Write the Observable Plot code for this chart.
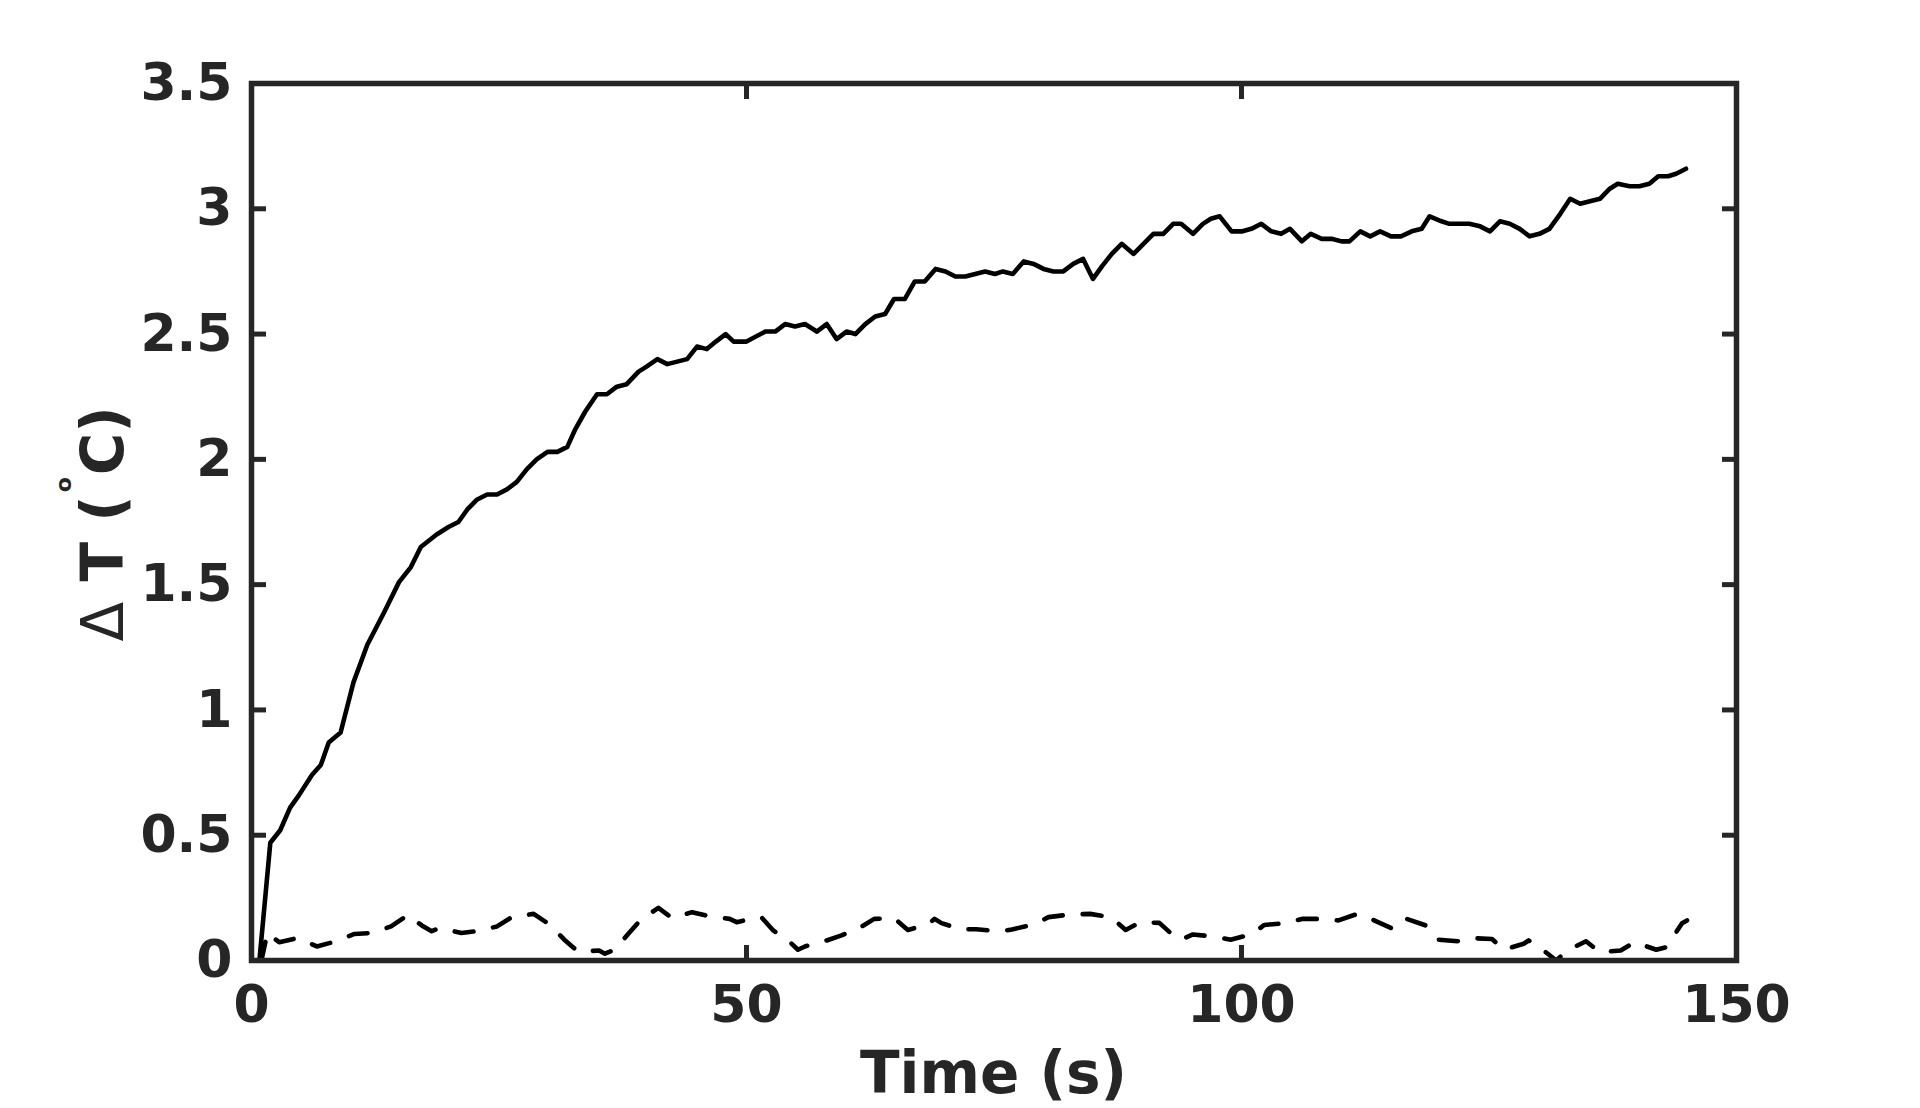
<!DOCTYPE html>
<html><head><meta charset="utf-8">
<script src="https://cdn.jsdelivr.net/npm/d3@7"></script>
<script src="https://cdn.jsdelivr.net/npm/@observablehq/plot@0.6"></script>
<style>html,body{margin:0;padding:0;background:#fff;} #chart svg{display:block}</style>
</head><body><div id="chart"></div>
<script>
// ---- data ----
const solidTime = [0.8, 1.9, 2.9, 3.9, 4.8, 6.1, 7.0, 7.8, 9.0, 10.3, 11.7, 13.4, 14.9, 16.1, 17.1, 18.7, 19.9, 20.9, 21.8, 22.8, 23.8, 24.8, 25.8, 26.8, 27.8, 28.8, 29.9, 30.9, 31.9, 32.7, 33.7, 34.9, 35.9, 36.9, 37.9, 39.1, 39.9, 41.0, 42.0, 43.0, 44.0, 45.0, 46.0, 46.9, 47.9, 48.7, 50.0, 51.9, 52.9, 53.9, 54.9, 55.9, 57.1, 58.1, 59.1, 60.1, 61.0, 62.0, 63.0, 64.0, 64.9, 66.0, 67.0, 68.0, 69.1, 70.1, 71.1, 72.1, 73.1, 74.1, 75.1, 75.9, 76.9, 78.0, 79.0, 80.0, 81.0, 82.0, 83.0, 84.0, 85.0, 85.9, 86.9, 87.9, 89.1, 90.1, 91.1, 92.1, 93.1, 93.9, 95.1, 96.1, 96.9, 97.8, 99.0, 100.1, 101.0, 102.0, 103.0, 104.0, 104.9, 106.1, 107.0, 108.1, 109.1, 110.1, 110.9, 112.0, 113.0, 114.0, 115.1, 116.1, 117.2, 118.2, 119.0, 120.2, 121.0, 122.0, 123.0, 124.1, 125.1, 126.1, 127.1, 128.1, 129.1, 130.1, 131.1, 132.2, 133.2, 134.2, 135.2, 136.2, 137.2, 138.0, 139.2, 140.2, 141.2, 142.1, 143.1, 143.9, 144.9];
const solidDeltaT = [0, 0.47, 0.52, 0.61, 0.66, 0.74, 0.78, 0.87, 0.91, 1.11, 1.26, 1.39, 1.51, 1.57, 1.65, 1.70, 1.73, 1.75, 1.80, 1.84, 1.86, 1.86, 1.88, 1.91, 1.96, 2.00, 2.03, 2.03, 2.05, 2.12, 2.19, 2.26, 2.26, 2.29, 2.30, 2.35, 2.37, 2.40, 2.38, 2.39, 2.40, 2.45, 2.44, 2.47, 2.50, 2.47, 2.47, 2.51, 2.51, 2.54, 2.53, 2.54, 2.51, 2.54, 2.48, 2.51, 2.50, 2.54, 2.57, 2.58, 2.64, 2.64, 2.71, 2.71, 2.76, 2.75, 2.73, 2.73, 2.74, 2.75, 2.74, 2.75, 2.74, 2.79, 2.78, 2.76, 2.75, 2.75, 2.78, 2.80, 2.72, 2.77, 2.82, 2.86, 2.82, 2.86, 2.90, 2.90, 2.94, 2.94, 2.90, 2.94, 2.96, 2.97, 2.91, 2.91, 2.92, 2.94, 2.91, 2.90, 2.92, 2.87, 2.90, 2.88, 2.88, 2.87, 2.87, 2.91, 2.89, 2.91, 2.89, 2.89, 2.91, 2.92, 2.97, 2.95, 2.94, 2.94, 2.94, 2.93, 2.91, 2.95, 2.94, 2.92, 2.89, 2.90, 2.92, 2.98, 3.04, 3.02, 3.03, 3.04, 3.08, 3.10, 3.09, 3.09, 3.10, 3.13, 3.13, 3.14, 3.16];

const dashedTime = [1.0, 1.6, 2.8, 4.7, 6.6, 8.2, 10.4, 12.2, 14.1, 15.8, 17.2, 18.2, 19.0, 21.2, 22.9, 24.8, 26.3, 28.5, 30.1, 31.6, 33.0, 35.1, 35.7, 36.7, 38.0, 39.3, 41.1, 42.5, 44.5, 46.3, 48.3, 49.0, 50.0, 51.5, 52.7, 54.4, 55.2, 55.9, 58.1, 59.6, 61.4, 62.9, 64.9, 66.3, 68.3, 69.0, 69.7, 71.7, 73.2, 75.6, 76.8, 79.1, 80.5, 82.7, 84.7, 86.8, 88.3, 89.8, 91.7, 93.3, 93.9, 95.1, 97.1, 98.9, 101.0, 102.3, 104.5, 106.1, 108.0, 109.8, 111.7, 113.3, 115.3, 116.7, 118.6, 119.9, 121.9, 123.3, 125.3, 126.5, 128.5, 129.0, 130.0, 131.8, 132.9, 134.8, 136.2, 138.3, 139.7, 141.9, 142.9, 143.4, 144.5, 145.0];
const dashedDeltaT = [0.0, 0.11, 0.073, 0.09, 0.056, 0.073, 0.106, 0.11, 0.136, 0.182, 0.14, 0.117, 0.13, 0.11, 0.118, 0.136, 0.173, 0.186, 0.144, 0.083, 0.035, 0.04, 0.027, 0.043, 0.104, 0.162, 0.21, 0.169, 0.193, 0.176, 0.166, 0.153, 0.162, 0.173, 0.12, 0.073, 0.043, 0.056, 0.08, 0.10, 0.13, 0.166, 0.169, 0.122, 0.144, 0.166, 0.149, 0.124, 0.125, 0.116, 0.124, 0.144, 0.173, 0.184, 0.186, 0.173, 0.122, 0.153, 0.15, 0.093, 0.083, 0.104, 0.096, 0.083, 0.104, 0.142, 0.149, 0.166, 0.166, 0.16, 0.186, 0.162, 0.126, 0.166, 0.14, 0.083, 0.077, 0.089, 0.086, 0.043, 0.067, 0.08, 0.056, 0.0, 0.04, 0.077, 0.033, 0.04, 0.073, 0.043, 0.053, 0.083, 0.149, 0.16];

const xTicks = [0, 50, 100, 150];
const yTicks = [0, 0.5, 1, 1.5, 2, 2.5, 3, 3.5];
const xLabel = "Time (s)";
const yLabelParts = {delta: "Δ", mid: " T (", sup: "o", unit: "C)"};

// ---- build tables ----
const solid = solidTime.map((t, i) => ({t, v: solidDeltaT[i]}));
const dashed = dashedTime.map((t, i) => ({t, v: dashedDeltaT[i]}));

const axisColor = "#262626";
const fontFamily = "'DejaVu Sans', sans-serif";
const tickFont = {fontSize: 52, fontWeight: "bold", fontFamily};
const plainFormat = d => String(d);

const chart = Plot.plot({
  width: 1920, height: 1108,
  marginLeft: 251, marginRight: 184, marginTop: 83, marginBottom: 148,
  style: {fontFamily, fontSize: "52px", fontWeight: "bold", color: axisColor, background: "#fff"},
  x: {domain: [0, 150]},
  y: {domain: [0, 3.5]},
  marks: [
    Plot.line(solid, {x: "t", y: "v", stroke: "#000", strokeWidth: 4.6, strokeLinejoin: "round", clip: true}),
    Plot.line(dashed, {x: "t", y: "v", stroke: "#000", strokeWidth: 4.6, strokeDasharray: "19,20", strokeLinejoin: "round", clip: true}),
    Plot.axisX(xTicks, {anchor: "bottom", tickSize: -15, tickPadding: 40, strokeWidth: 5, label: null, tickFormat: plainFormat, ...tickFont}),
    Plot.axisX(xTicks, {anchor: "top", tickSize: -15, fill: "none", strokeWidth: 5, label: null}),
    Plot.axisY(yTicks, {anchor: "left", tickSize: -15, tickPadding: 34, strokeWidth: 5, label: null, tickFormat: plainFormat, ...tickFont}),
    Plot.axisY(yTicks, {anchor: "right", tickSize: -15, fill: "none", strokeWidth: 5, label: null}),
    Plot.frame({stroke: axisColor, strokeWidth: 5.5})
  ]
});
document.getElementById("chart").appendChild(chart);

// ---- axis titles ----
const sx = chart.scale("x"), sy = chart.scale("y");
const xMid = (sx.apply(0) + sx.apply(150)) / 2;
const yMid = (sy.apply(0) + sy.apply(3.5)) / 2;
const svg = d3.select(chart);

svg.append("text")
  .attr("x", xMid).attr("y", 1093)
  .attr("text-anchor", "middle")
  .attr("font-family", fontFamily).attr("font-size", 58).attr("font-weight", "bold")
  .attr("fill", axisColor)
  .text(xLabel);

const yl = svg.append("text")
  .attr("transform", `translate(123, ${yMid + 120}) rotate(-90)`)
  .attr("text-anchor", "start")
  .attr("font-family", fontFamily).attr("font-size", 58).attr("font-weight", "bold")
  .attr("fill", axisColor);
yl.append("tspan").attr("font-weight", "normal").text(yLabelParts.delta);
yl.append("tspan").text(yLabelParts.mid);
yl.append("tspan").attr("font-size", 22).attr("font-weight", "bold").attr("dx", 3).attr("dy", -52).text(yLabelParts.sup);
yl.append("tspan").attr("dx", 2).attr("dy", 52).text(yLabelParts.unit);
</script>
</body></html>
